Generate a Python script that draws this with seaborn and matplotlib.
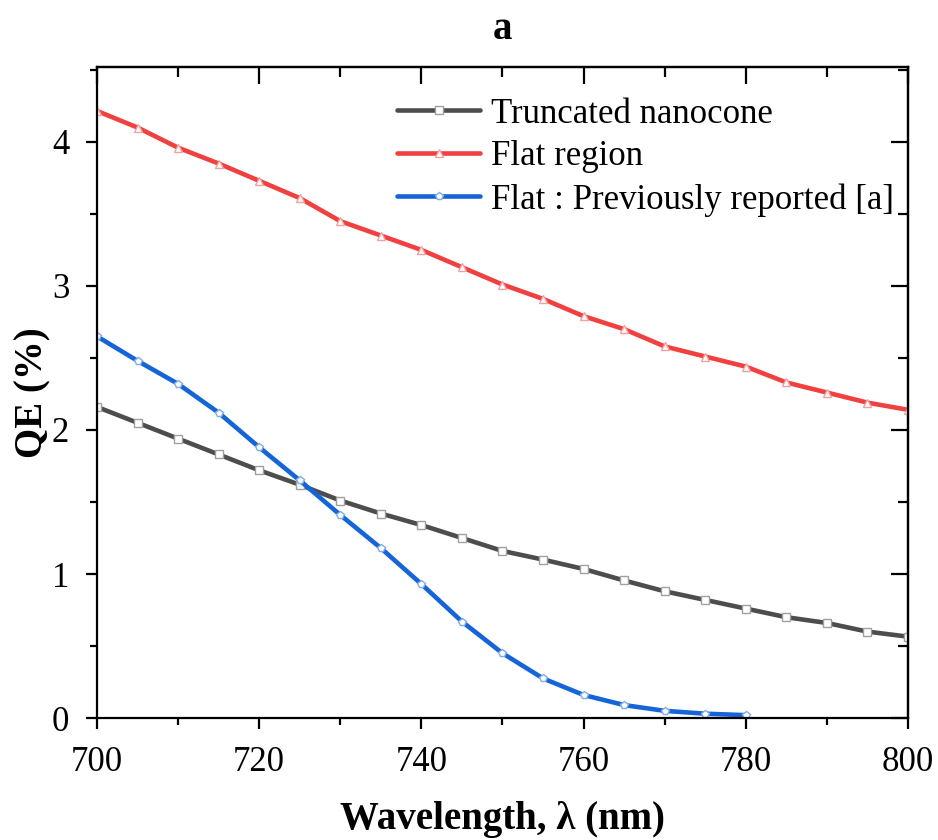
import matplotlib
matplotlib.use('Agg')
import matplotlib.pyplot as plt
from matplotlib.ticker import MultipleLocator
import seaborn as sns
import pandas as pd

# データ
wavelength = [700, 705, 710, 715, 720, 725, 730, 735, 740, 745, 750,
              755, 760, 765, 770, 775, 780, 785, 790, 795, 800]
qe_nanocone = [2.16, 2.05, 1.94, 1.83, 1.72, 1.62, 1.51, 1.42, 1.34, 1.25, 1.16,
               1.10, 1.035, 0.955, 0.88, 0.82, 0.76, 0.70, 0.66, 0.60, 0.565]
qe_flat = [4.215, 4.10, 3.96, 3.85, 3.73, 3.61, 3.45, 3.35, 3.25, 3.13, 3.01,
           2.91, 2.79, 2.70, 2.58, 2.51, 2.44, 2.33, 2.26, 2.19, 2.14]
wavelength_prev = wavelength[:17]
qe_prev = [2.65, 2.48, 2.32, 2.12, 1.88, 1.65, 1.41, 1.18, 0.93, 0.67, 0.45,
           0.275, 0.16, 0.09, 0.05, 0.03, 0.02]

labels = ['Truncated nanocone', 'Flat region', 'Flat : Previously reported [a]']

sns.set_style('white')
plt.rcParams['font.family'] = ['Liberation Serif', 'DejaVu Serif']
plt.rcParams['text.color'] = 'black'
plt.rcParams['axes.labelcolor'] = 'black'
plt.rcParams['xtick.color'] = 'black'
plt.rcParams['ytick.color'] = 'black'

fig = plt.figure(figsize=(9.38, 8.4), dpi=100)
ax = fig.add_axes([0.1034, 0.1452, 0.8646, 0.775])

series = [
    (wavelength, qe_nanocone, labels[0], '#4d4d4d', '#a0a0a0', 's'),
    (wavelength, qe_flat, labels[1], '#f0403f', '#f5a0a0', '^'),
    (wavelength_prev, qe_prev, labels[2], '#1565d8', '#80ace8', 'p'),
]
for xs, ys, lab, col, ecol, mk in series:
    df = pd.DataFrame({'x': xs, 'y': ys})
    sns.lineplot(data=df, x='x', y='y', ax=ax, color=col, linewidth=3.3,
                 marker=mk, markersize=5.5, markerfacecolor='white',
                 markeredgecolor=ecol, markeredgewidth=1.0, label=lab)

ax.set_xlim(700, 800)
ax.set_ylim(0, 4.52)
ax.xaxis.set_major_locator(MultipleLocator(20))
ax.xaxis.set_minor_locator(MultipleLocator(10))
ax.yaxis.set_major_locator(MultipleLocator(1))
ax.yaxis.set_minor_locator(MultipleLocator(0.5))
ax.tick_params(which='major', direction='out', length=8, width=1.6,
               labelsize=25, pad=12, bottom=True, left=True)
ax.tick_params(which='minor', direction='out', length=5, width=1.6,
               bottom=True, left=True)

# 上と右の目盛り（内向き）
top = ax.secondary_xaxis('top')
top.xaxis.set_major_locator(MultipleLocator(20))
top.xaxis.set_minor_locator(MultipleLocator(10))
top.tick_params(which='major', direction='in', length=12, width=1.6, labeltop=False)
top.tick_params(which='minor', direction='in', length=7, width=1.6)
right = ax.secondary_yaxis('right')
right.yaxis.set_major_locator(MultipleLocator(1))
right.yaxis.set_minor_locator(MultipleLocator(0.5))
right.tick_params(which='major', direction='in', length=12, width=1.6, labelright=False)
right.tick_params(which='minor', direction='in', length=7, width=1.6)
for sp in list(ax.spines.values()) + [top.spines['top'], right.spines['right']]:
    sp.set_linewidth(1.6)
    sp.set_color('black')

ax.set_xlabel('Wavelength, λ (nm)', fontsize=28, fontweight='bold', va='center')
ax.set_ylabel('QE (%)', fontsize=28, fontweight='bold', va='center')
ax.xaxis.set_label_coords(0.5, -0.156)
ax.yaxis.set_label_coords(-0.079, 0.5)
ax.set_title('a', fontsize=28, fontweight='bold', pad=20)

ax.legend(loc='upper right', bbox_to_anchor=(1.008, 0.985), frameon=False,
          fontsize=25, handlelength=2.4, handletextpad=0.3, labelspacing=0.28,
          borderaxespad=0.2)

plt.savefig('out.png', dpi=100)
